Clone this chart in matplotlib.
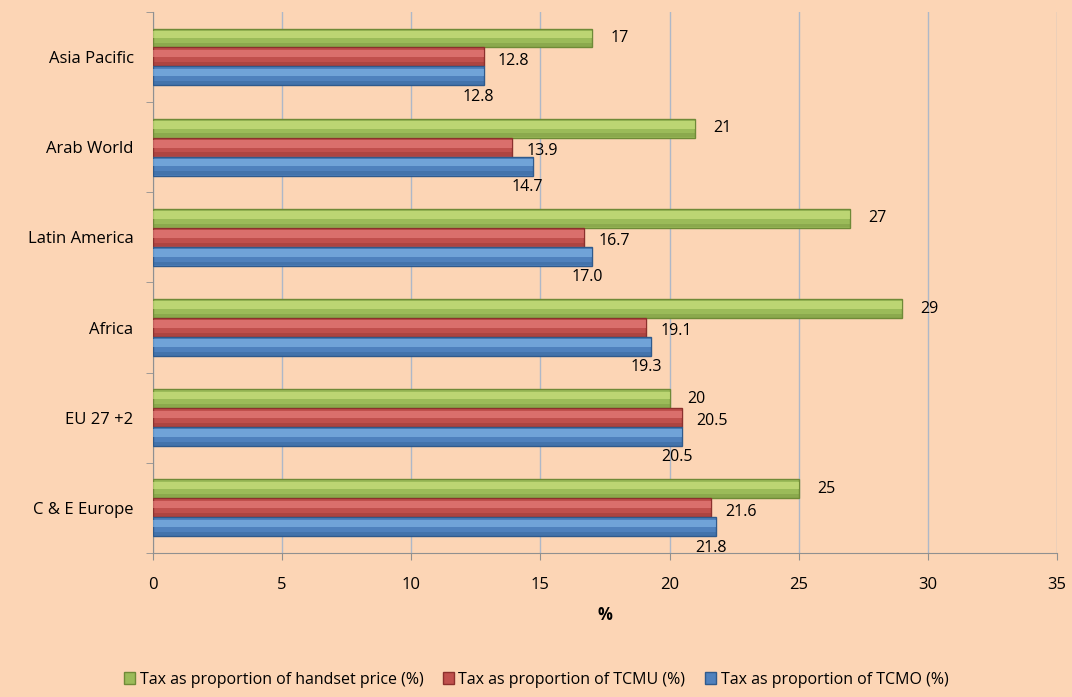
import numpy as np
import matplotlib.pyplot as plt

regions = ["C & E Europe", "EU 27 +2", "Africa", "Latin America", "Arab World", "Asia Pacific"]
handset = [25, 20, 29, 27, 21, 17]
tcmu = [21.6, 20.5, 19.1, 16.7, 13.9, 12.8]
tcmo = [21.8, 20.5, 19.3, 17.0, 14.7, 12.8]
handset_labels = ["25", "20", "29", "27", "21", "17"]
tcmu_labels = ["21.6", "20.5", "19.1", "16.7", "13.9", "12.8"]
tcmo_labels = ["21.8", "20.5", "19.3", "17.0", "14.7", "12.8"]
legend_labels = ["Tax as proportion of handset price (%)",
                 "Tax as proportion of TCMU (%)",
                 "Tax as proportion of TCMO (%)"]

bg = "#fcd5b5"
plt.rcParams['font.family'] = ['Open Sans', 'DejaVu Sans']

fig = plt.figure(figsize=(10.72, 6.97), dpi=100, facecolor=bg)
ax = fig.add_axes([0.1427, 0.2066, 0.8433, 0.7764])
ax.set_facecolor(bg)

y = np.arange(len(regions))
h = 0.21
series = [
    (handset, "#9bbb59", "#d8ec8a", "#6f8a37", h),
    (tcmu, "#c0504d", "#f08a86", "#8c302d", 0),
    (tcmo, "#4f81bd", "#8cc0f0", "#2f5a8c", -h),
]
handles = []
for vals, col, light, dark, off in series:
    b = ax.barh(y + off, vals, height=h, color=col, edgecolor=dark, linewidth=1.0, zorder=3)
    # soft bevel: lighter upper band, darker lower band
    ax.barh(y + off + h * 0.18, vals, height=h * 0.4, color=light, alpha=0.55,
            linewidth=0, zorder=4)
    ax.barh(y + off - h * 0.38, vals, height=h * 0.2, color=dark, alpha=0.35,
            linewidth=0, zorder=4)
    handles.append(b)

fs = 11.5
for i in range(len(regions)):
    ax.text(handset[i] + 0.7, y[i] + h, handset_labels[i], va="center", ha="left",
            fontsize=fs, zorder=5)
    ax.text(tcmu[i] + 0.55, y[i] - 0.04, tcmu_labels[i], va="center", ha="left",
            fontsize=fs, zorder=5)
    ax.text(tcmo[i] - 0.2, y[i] - 0.44, tcmo_labels[i], va="center", ha="center",
            fontsize=fs, zorder=5)

ax.set_xlim(0, 35)
ax.set_ylim(-0.5, len(regions) - 0.5)
ax.set_xticks(np.arange(0, 36, 5))
ax.set_yticks(y)
ax.set_yticklabels(regions, fontsize=12)
ax.set_yticks(np.arange(-0.5, len(regions), 1), minor=True)
ax.tick_params(axis="y", which="major", length=0, pad=14)
ax.tick_params(axis="y", which="minor", length=5, color="#909090")
ax.tick_params(axis="x", length=5, color="#909090", labelsize=12, pad=12)
ax.grid(axis="x", color="#aeb8c8", linewidth=1, zorder=0)
for s in ["top", "right"]:
    ax.spines[s].set_visible(False)
for s in ["left", "bottom"]:
    ax.spines[s].set_color("#909090")
ax.set_xlabel("%", fontsize=12, fontweight="bold", labelpad=10)

fig.legend(handles, legend_labels, loc="center", bbox_to_anchor=(0.5, 0.025),
           ncol=3, frameon=False, fontsize=11.5, handlelength=0.7, handleheight=0.7,
           handletextpad=0.3, columnspacing=1.2)

fig.savefig("out.png", dpi=100, facecolor=bg)
